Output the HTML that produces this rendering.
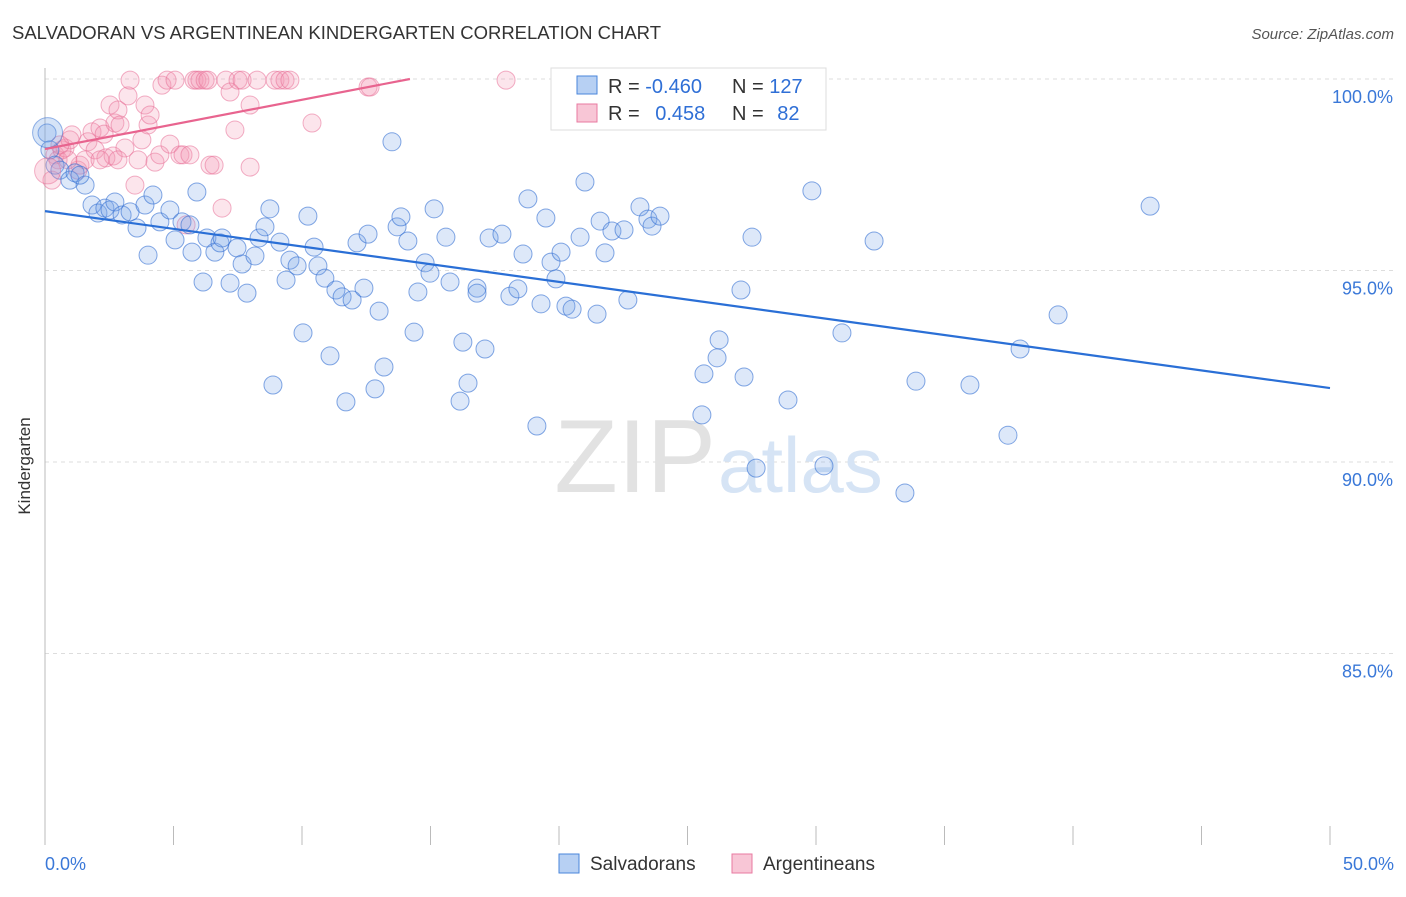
<!DOCTYPE html>
<html><head><meta charset="utf-8"><style>
body{margin:0;background:#fff;font-family:"Liberation Sans",sans-serif;}
svg text{font-family:"Liberation Sans",sans-serif;}
</style></head><body>
<svg id="chart" width="1406" height="892" viewBox="0 0 1406 892">
<text x="12" y="39" font-size="18.5" fill="#333">SALVADORAN VS ARGENTINEAN KINDERGARTEN CORRELATION CHART</text>
<text x="1394" y="39" font-size="15" fill="#555" font-style="italic" text-anchor="end">Source: ZipAtlas.com</text>
<g id="grid"></g>
<line x1="45" y1="68" x2="45" y2="845" stroke="#bbb"/>
<g id="xticks"></g>
<text x="716" y="492" font-size="104" fill="#e2e2e2" text-anchor="end" font-family="Liberation Serif">ZIP</text>
<text x="718" y="492" font-size="78" fill="#d6e4f5">atlas</text>
<g id="pts"></g>
<g id="lines"></g>
<text x="20" y="456" font-size="17" fill="#333" transform="rotate(-90 30 456)" text-anchor="middle">Kindergarten</text>
<text x="45" y="870" font-size="18" fill="#3a78d8">0.0%</text>
<text x="1394" y="870" font-size="18" fill="#3a78d8" text-anchor="end">50.0%</text>
<g>
<rect x="551" y="68" width="275" height="62" fill="#fff" stroke="#ddd"/>
<rect x="577" y="76" width="20" height="18" fill="#b7d0f3" stroke="#4a86db"/>
<rect x="577" y="104" width="20" height="18" fill="#f8c6d6" stroke="#e87aa0"/>
<text x="608" y="93" font-size="20" fill="#333">R = <tspan fill="#2f6fd6">-0.460</tspan></text>
<text x="732" y="93" font-size="20" fill="#333">N = <tspan fill="#2f6fd6">127</tspan></text>
<text x="608" y="120" font-size="20" fill="#333">R = <tspan fill="#2f6fd6" dx="10">0.458</tspan></text>
<text x="732" y="120" font-size="20" fill="#333">N = <tspan fill="#2f6fd6" dx="8">82</tspan></text>
</g>
<g>
<rect x="559" y="854" width="20" height="19" fill="#b7d0f3" stroke="#4a86db"/>
<text x="590" y="870" font-size="19" fill="#333">Salvadorans</text></g>
<g>
<rect x="732" y="854" width="20" height="19" fill="#f8c6d6" stroke="#e87aa0"/>
<text x="763" y="870" font-size="19" fill="#333">Argentineans</text></g>
</svg>
<script>
const yTicks=[100,95,90,85];
const yTickLabels=["100.0%","95.0%","90.0%","85.0%"];
const xTicks=[0,5,10,15,20,25,30,35,40,45,50];
const bluePx=[[47,133],[50,150],[55,165],[60,170],[70,180],[75,173],[85,185],[80,175],[92,205],[98,213],[105,208],[110,210],[115,202],[122,215],[130,212],[137,228],[145,205],[148,255],[153,195],[160,222],[170,210],[175,240],[182,222],[190,225],[192,252],[197,192],[203,282],[207,238],[215,252],[220,243],[222,238],[230,283],[237,248],[242,264],[247,293],[255,256],[259,238],[265,227],[270,209],[273,385],[280,242],[286,280],[290,260],[297,266],[303,333],[308,216],[314,247],[318,266],[325,278],[330,356],[336,290],[342,297],[346,402],[352,300],[357,243],[364,288],[368,234],[375,389],[379,311],[384,367],[392,142],[397,227],[401,217],[408,241],[414,332],[418,292],[425,263],[430,273],[434,209],[446,237],[450,282],[463,342],[468,383],[460,401],[477,288],[477,293],[485,349],[489,238],[502,234],[510,296],[518,289],[523,254],[528,199],[537,426],[541,304],[546,218],[551,262],[556,279],[561,252],[566,306],[572,309],[580,237],[585,182],[597,314],[600,221],[605,253],[612,231],[624,230],[628,300],[640,207],[648,219],[652,226],[660,216],[685,79],[702,415],[704,374],[717,358],[719,340],[744,377],[741,290],[752,237],[756,468],[788,400],[812,191],[824,466],[842,333],[874,241],[905,493],[916,381],[970,385],[1008,435],[1020,349],[1058,315],[1150,206]];
const pinkPx=[[52,180],[55,155],[58,160],[62,150],[65,148],[70,140],[72,135],[78,170],[80,165],[88,142],[92,132],[95,150],[100,128],[104,134],[106,158],[110,105],[113,156],[115,123],[118,110],[120,125],[125,148],[128,96],[130,80],[135,185],[138,160],[142,140],[145,105],[148,125],[150,115],[155,162],[160,155],[162,85],[167,80],[170,144],[175,80],[180,155],[183,155],[186,225],[190,155],[194,80],[197,80],[200,80],[205,80],[208,80],[210,165],[214,165],[222,208],[226,80],[230,92],[235,130],[238,80],[242,80],[250,105],[250,167],[257,80],[275,80],[280,80],[285,80],[290,80],[312,123],[368,87],[370,87],[506,80],[60,145],[68,160],[85,160],[100,160],[118,160]];
// data values (x %, y %) derived from reading the picture
const blueX=bluePx.map(p=>+((p[0]-45)/25.7).toFixed(2));
const blueY=bluePx.map(p=>+(100-(p[1]-79)/38.3).toFixed(2));
const pinkX=pinkPx.map(p=>+((p[0]-45)/25.7).toFixed(2));
const pinkY=pinkPx.map(p=>+(100-(p[1]-79)/38.3).toFixed(2));
const blueTrend=[[0,96.55],[50,91.93]];
const pinkTrend=[[0,98.17],[14.2,100]];
const X=v=>45+v*25.7, Y=v=>79+(100-v)*38.3;
const NS="http://www.w3.org/2000/svg";
function mk(t,a,parent){const e=document.createElementNS(NS,t);for(const k in a)e.setAttribute(k,a[k]);document.getElementById(parent).appendChild(e);return e;}
yTicks.forEach((t,i)=>{
 const l=mk('line',{x1:45,x2:1394,y1:Y(t),y2:Y(t),stroke:'#ddd','stroke-dasharray':'4,4'},'grid');
 
 
 const tx=mk('text',{x:1393,y:Y(t)+24,'font-size':18,fill:'#3a78d8','text-anchor':'end'},'grid');
 tx.textContent=yTickLabels[i];
 
 
});
xTicks.forEach(t=>{
 const l=mk('line',{x1:X(t),x2:X(t),y1:826,y2:845,stroke:'#bbb'},'xticks');
 
 
});
function pts(xs,ys,fill,stroke,name){xs.forEach((x,i)=>{
 const c=mk('circle',{cx:X(x),cy:Y(ys[i]),r:9,fill:fill,stroke:stroke,'stroke-width':1},'pts');
 
 
});}
pts(pinkX,pinkY,'rgba(244,150,180,0.25)','rgba(232,110,150,0.55)','argentinean-point');
pts(blueX,blueY,'rgba(120,165,230,0.25)','rgba(50,110,210,0.6)','salvadoran-point');
const big1=mk('circle',{cx:X(0.1),cy:Y(98.6),r:15,fill:'rgba(120,165,230,0.3)',stroke:'rgba(50,110,210,0.5)'},'pts');


const big2=mk('circle',{cx:X(0.1),cy:Y(97.6),r:13,fill:'rgba(244,150,180,0.3)',stroke:'rgba(232,110,150,0.5)'},'pts');


const bl=mk('line',{x1:X(blueTrend[0][0]),y1:Y(blueTrend[0][1]),x2:X(blueTrend[1][0]),y2:Y(blueTrend[1][1]),stroke:'#2a6fd6','stroke-width':2.2},'lines');


const pl=mk('line',{x1:X(pinkTrend[0][0]),y1:Y(pinkTrend[0][1]),x2:X(pinkTrend[1][0]),y2:Y(pinkTrend[1][1]),stroke:'#e8648f','stroke-width':2.2},'lines');


</script>
</body></html>
